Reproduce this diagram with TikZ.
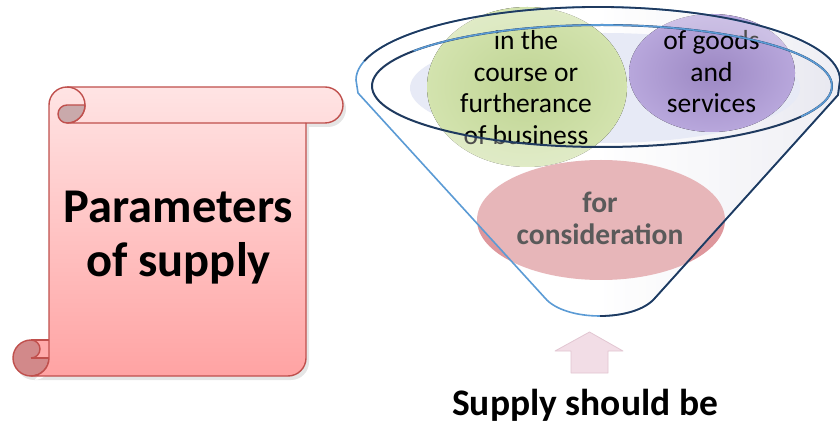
\documentclass[tikz,border=0pt]{standalone}
\usepackage{fontspec}
\setmainfont{Carlito}
\definecolor{scrollred}{HTML}{C0504D}
\definecolor{scrolltop}{HTML}{FFE4E4}
\definecolor{scrollbot}{HTML}{FFA3A3}
\definecolor{curlgray}{HTML}{C9A9AB}
\definecolor{curldark}{HTML}{D2898A}
\definecolor{sqfill}{HTML}{FFAAAA}
\definecolor{fblue}{HTML}{5B9BD5}
\definecolor{fnavy}{HTML}{1F3A5F}
\definecolor{funnelgray}{HTML}{E8E8F0}
\definecolor{lav}{HTML}{E7EAF6}
\definecolor{gin}{HTML}{BFD494}
\definecolor{gout}{HTML}{D3E3AE}
\definecolor{pin}{HTML}{9C88C3}
\definecolor{pout}{HTML}{B8A7DC}
\definecolor{pinkc}{HTML}{DE979C}
\definecolor{pinktext}{HTML}{5A5A5A}
\definecolor{arrowpink}{HTML}{F2DDE6}
\definecolor{arrowedge}{HTML}{E2C6D2}
\tikzset{
  scrollline/.style={draw=scrollred, line width=1.4pt, line join=round},
  partext/.style={font=\fontsize{48.5}{54}\selectfont\bfseries, inner sep=0pt, anchor=base},
  bubtext/.style={font=\fontsize{27.5}{32}\selectfont, inner sep=0pt, anchor=base},
  pinktxt/.style={font=\fontsize{29.5}{32}\selectfont\bfseries, text=pinktext, inner sep=0pt, anchor=base},
  captext/.style={font=\fontsize{37.5}{44}\selectfont\bfseries, inner sep=0pt, anchor=base},
}
\begin{document}
\begin{tikzpicture}[x=1pt,y=1pt]
\useasboundingbox (0,0) rectangle (840,423);
\fill[white] (0,0) rectangle (840,423);

% ---------- scroll ----------
% soft shadow
\fill[black, opacity=0.10]
  (70,332) -- (328,332) arc[start angle=90,end angle=-90,radius=18]
  -- (309,296) -- (309,61) arc[start angle=0,end angle=-90,radius=18]
  -- (34,43) arc[start angle=-90,end angle=270,radius=18] -- (52,61) -- (52,314) -- cycle;
% bottom-left curl
\draw[scrollline, fill=curldark] (31,65) circle[radius=18];
\fill[sqfill] (31,65) rectangle (49,83);
\draw[scrollline] (31,83) -- (49,83);
\fill[curldark] (31,83) arc[start angle=90,end angle=-90,radius=9] -- cycle;
\draw[scrollline] (31,83) arc[start angle=90,end angle=-90,radius=9];
\draw[scrollline] (31,65) -- (49,65);
% body
\draw[scrollline, top color=scrolltop, bottom color=scrollbot]
  (67,336) -- (325,336) arc[start angle=90,end angle=-90,radius=18]
  -- (306,300) -- (306,65) arc[start angle=0,end angle=-90,radius=18]
  -- (31,47) arc[start angle=-90,end angle=0,radius=18]
  -- (49,318) arc[start angle=180,end angle=90,radius=18] -- cycle;
% top-left curl
\draw[scrollline] (67,336) arc[start angle=90,end angle=-90,radius=18] -- (306,300);
\draw[scrollline, fill=curlgray] (67,318) -- (85,318)
  arc[start angle=0,end angle=-90,radius=18]
  arc[start angle=-90,end angle=-270,radius=9] -- cycle;
\node[partext] (p1) at (178.5,200) {Parameters};
\node[partext] (p2) at (178.5,146) {of supply};

% ---------- funnel ----------
\fill[left color=white, right color=funnelgray, middle color=white]
  (356,343) arc[start angle=180,end angle=0,x radius=242,y radius=73]
  -- (838,328) -- (655,125) .. controls (635,101) and (565,101) .. (545,125)
  -- (358,330) -- cycle;
\fill[lav] (605,335) ellipse[x radius=195,y radius=55];
\fill[inner color=gin, outer color=gout] (527,336) ellipse[x radius=100,y radius=80];
\fill[inner color=pin, outer color=pout] (712,350) ellipse[x radius=83,y radius=59];
\fill[pinkc] (601,203) ellipse[x radius=124,y radius=60];

\node[bubtext] (g1) at (526,373) {in the};
\node[bubtext] (g2) at (526,341) {course or};
\node[bubtext] (g3) at (526,310) {furtherance};
\node[bubtext] (g4) at (526,278) {of business};
\node[bubtext] (v1) at (711.5,373) {of goods};
\node[bubtext] (v2) at (711.5,341) {and};
\node[bubtext] (v3) at (711.5,310) {services};

% glass overlay outside the rim
\begin{scope}
  \clip (356,343) arc[start angle=180,end angle=0,x radius=242,y radius=73]
    -- (838,328) -- (655,125) .. controls (635,101) and (565,101) .. (545,125)
    -- (358,330) -- cycle;
  \fill[white, opacity=0.3, even odd rule] (340,0) rectangle (840,423)
    (602,337) ellipse[x radius=230,y radius=61];
\end{scope}

\node[pinktxt] (k1) at (600,210) {for};
\node[pinktxt] (k2) at (600,178) {consideration};

% funnel outline
\draw[fblue, line width=1.6pt, line join=round]
  (356,343) arc[start angle=180,end angle=0,x radius=242,y radius=73]
  -- (838,328) -- (655,125) .. controls (635,101) and (565,101) .. (545,125)
  -- (358,330) -- cycle;
\draw[fnavy, line width=1.8pt, line join=round]
  (600,107) .. controls (622.5,107) and (645,113) .. (655,125) -- (838,328) -- (840,343)
  arc[start angle=0,end angle=165,x radius=242,y radius=73];
% rim
\draw[fnavy, line width=2pt] (602,337) ellipse[x radius=230,y radius=61];
\draw[fblue, line width=1.6pt] (413.6,372.0) arc[start angle=145,end angle=-30,x radius=230,y radius=61];

% ---------- arrow and caption ----------
\draw[arrowedge, fill=arrowpink, line width=0.8pt, line join=round]
  (571,50) -- (571,72) -- (555,72) -- (589.5,91) -- (623,72) -- (608,72) -- (608,50) -- cycle;
\node[captext] (cap) at (585,8) {Supply should be};
\end{tikzpicture}
\end{document}
